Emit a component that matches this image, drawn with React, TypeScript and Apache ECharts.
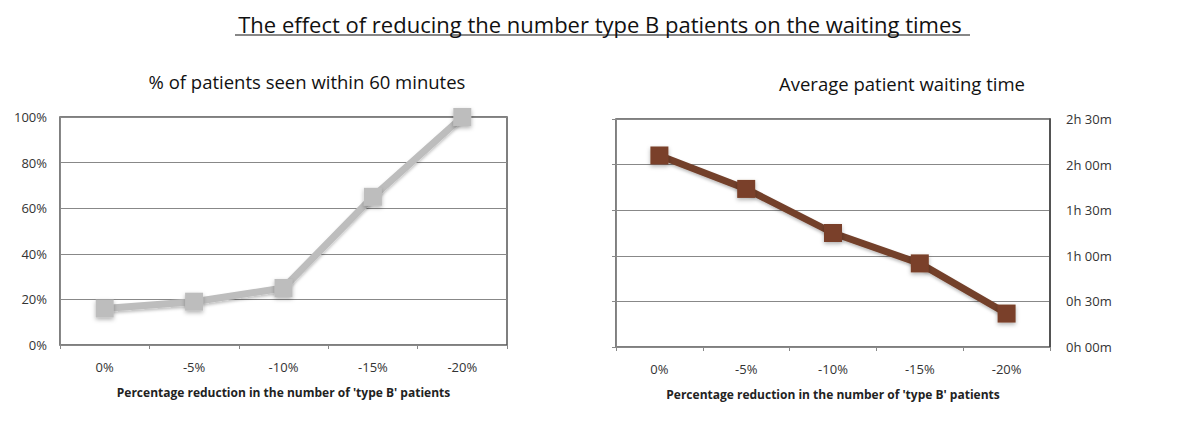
import React, { useEffect, useRef } from "react";
import * as echarts from "echarts";

const categories = ["0%", "-5%", "-10%", "-15%", "-20%"];
const pctSeenWithin60 = [16, 19, 25, 65, 100];
const avgWaitMinutes = [126, 104, 75, 55, 22];

const mainTitle = "The effect of reducing the number type B patients on the waiting times";
const leftTitle = "% of patients seen within 60 minutes";
const rightTitle = "Average patient waiting time";
const xName = "Percentage reduction in the number of 'type B' patients";

const FONT = "'Open Sans', sans-serif";

function fmtTime(v: number) {
  const h = Math.floor(v / 60);
  const m = v % 60;
  return `${h}h ${String(m).padStart(2, "0")}m`;
}

export default function App() {
  const ref = useRef<HTMLDivElement>(null);
  useEffect(() => {
    if (!ref.current) return;
    const chart = echarts.init(ref.current, null, { renderer: "svg" });
    const axisLabel = { color: "#333", fontSize: 13, fontFamily: FONT };
    const xAxisCommon = {
      type: "category" as const,
      data: categories,
      boundaryGap: true,
      axisLine: { show: true, lineStyle: { color: "#888", width: 1 } },
      axisTick: { show: true, length: 4, alignWithLabel: false, lineStyle: { color: "#888" } },
      axisLabel: { ...axisLabel, margin: 15 },
      name: xName,
      nameLocation: "middle" as const,
      nameGap: 41,
      nameTextStyle: { fontFamily: FONT, fontSize: 12, fontWeight: "bold", color: "#222" },
    };
    chart.setOption({
      animation: false,
      backgroundColor: "#fff",
      title: [
        {
          text: mainTitle,
          left: "center",
          top: 8,
          textStyle: { fontFamily: FONT, fontSize: 22, fontWeight: "normal", color: "#111" },
        },
        {
          text: leftTitle,
          left: 302,
          textAlign: "center",
          top: 67,
          textStyle: { fontFamily: FONT, fontSize: 18.5, fontWeight: "normal", color: "#111" },
        },
        {
          text: rightTitle,
          left: 897,
          textAlign: "center",
          top: 69,
          textStyle: { fontFamily: FONT, fontSize: 18.5, fontWeight: "normal", color: "#111" },
        },
      ],
      graphic: [
        {
          type: "line",
          shape: { x1: 235, y1: 35, x2: 970, y2: 35 },
          style: { stroke: "#111", lineWidth: 1.2 },
        },
      ],
      grid: [
        { left: 60, right: 693, top: 117, bottom: 88, show: true, borderColor: "#555", borderWidth: 1.5 },
        { left: 616, right: 150, top: 119, bottom: 86, show: true, borderColor: "#555", borderWidth: 1.5 },
      ],
      xAxis: [
        { ...xAxisCommon, gridIndex: 0 },
        { ...xAxisCommon, gridIndex: 1 },
      ],
      yAxis: [
        {
          gridIndex: 0,
          type: "value",
          min: 0,
          max: 100,
          interval: 20,
          axisLine: { show: true, lineStyle: { color: "#888" } },
          axisTick: { show: false },
          splitLine: { show: true, lineStyle: { color: "#888", width: 1 } },
          axisLabel: { ...axisLabel, margin: 13, formatter: (v: number) => `${v}%` },
        },
        {
          gridIndex: 1,
          type: "value",
          position: "right",
          min: 0,
          max: 150,
          interval: 30,
          axisLine: { show: true, lineStyle: { color: "#444", width: 1.5 } },
          axisTick: { show: false },
          splitLine: { show: true, lineStyle: { color: "#888", width: 1 } },
          axisLabel: { ...axisLabel, margin: 16, formatter: (v: number) => fmtTime(v) },
        },
        {
          gridIndex: 1,
          type: "value",
          position: "left",
          min: 0,
          max: 150,
          interval: 30,
          axisLine: { show: true, lineStyle: { color: "#888", width: 1 } },
          axisTick: { show: true, length: 4, lineStyle: { color: "#888" } },
          splitLine: { show: false },
          axisLabel: { show: false },
        },
      ],
      series: [
        {
          type: "line",
          xAxisIndex: 0,
          yAxisIndex: 0,
          data: pctSeenWithin60,
          symbol: "rect",
          symbolSize: 18,
          lineStyle: { color: "#bdbdbd", width: 7, shadowColor: "rgba(0,0,0,0.25)", shadowBlur: 3, shadowOffsetY: 2 },
          itemStyle: { color: "#bdbdbd", shadowColor: "rgba(0,0,0,0.3)", shadowBlur: 4, shadowOffsetY: 2 },
          z: 5,
        },
        {
          type: "line",
          xAxisIndex: 1,
          yAxisIndex: 1,
          data: avgWaitMinutes,
          symbol: "rect",
          symbolSize: 18,
          lineStyle: { color: "#73402b", width: 7, shadowColor: "rgba(0,0,0,0.25)", shadowBlur: 3, shadowOffsetY: 2 },
          itemStyle: { color: "#7a4129", shadowColor: "rgba(0,0,0,0.3)", shadowBlur: 4, shadowOffsetY: 2 },
          z: 5,
        },
      ],
    });
    return () => chart.dispose();
  }, []);
  return (
    <div
      ref={ref}
      style={{ position: "fixed", left: 0, top: 0, width: 1200, height: 433, background: "#fff" }}
    />
  );
}
